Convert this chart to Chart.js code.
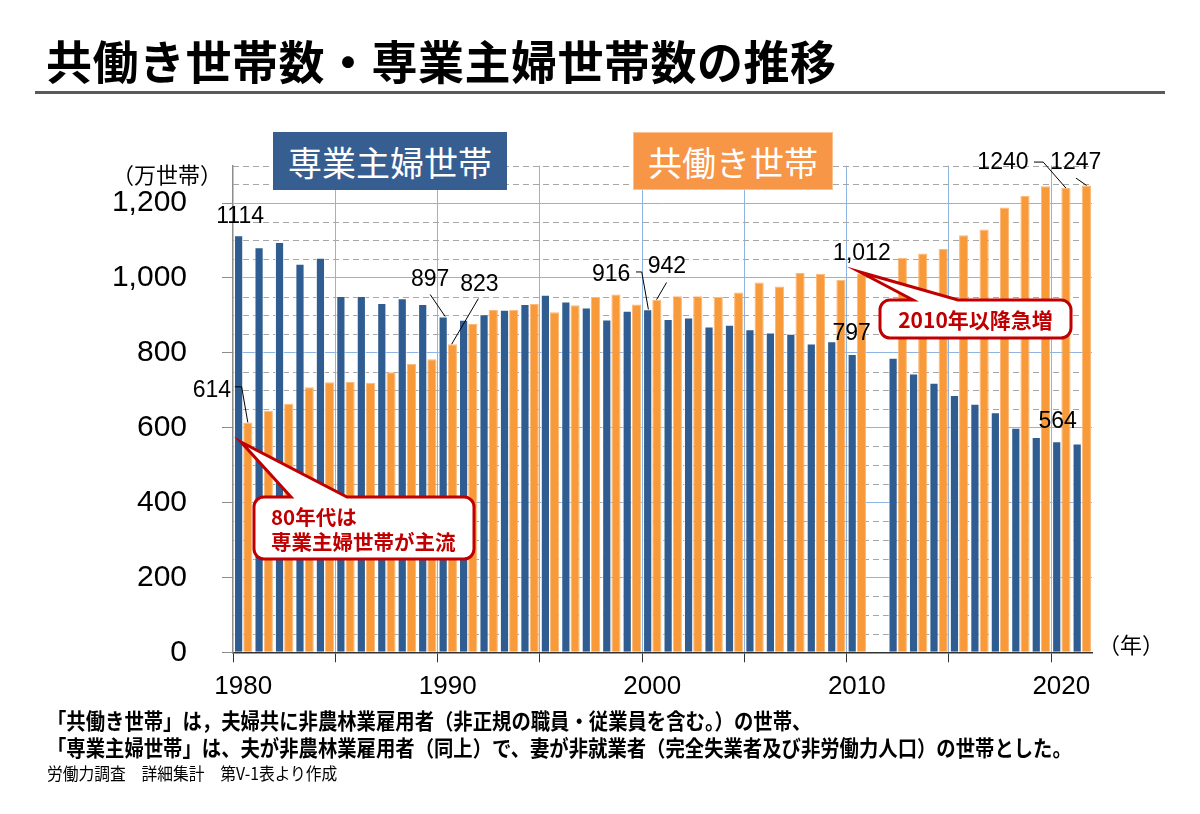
<!DOCTYPE html>
<html lang="ja">
<head>
<meta charset="utf-8">
<title>共働き世帯数・専業主婦世帯数の推移</title>
<script src="https://cdn.jsdelivr.net/npm/chart.js@4.4.0/dist/chart.umd.min.js"></script>
<style>
    body { margin: 0; background: #fff; }
    .page { position: relative; width: 1200px; height: 814px; overflow: hidden; font-family: "Noto Sans CJK JP", "Noto Sans", sans-serif; color: #000; }
    #chart { position: absolute; left: 0; top: 0; }
    .title { position: absolute; left: 46px; top: 34px; font-size: 46px; line-height: 50px; font-weight: bold; letter-spacing: 0.5px; white-space: nowrap; }
    .rule { position: absolute; left: 35px; top: 91px; width: 1130px; height: 3px; background: #5a5a5a; }
    .key { position: absolute; top: 132px; height: 58px; color: #fff; font-size: 34px; display: flex; align-items: center; justify-content: center; box-sizing: border-box; }
    .key.blue { left: 273px; width: 234px; background: #365e91; }
    .key.orange { left: 633px; width: 200px; background: #f79646; border: 1px solid #fbc28f; }
    .unit { position: absolute; font-size: 22px; line-height: 24px; white-space: nowrap; }
    .note { position: absolute; left: 47px; white-space: nowrap; transform: scaleX(0.9); transform-origin: left center; }
    .note.b { font-size: 21.5px; font-weight: bold; line-height: 26px; }
    .note.s { font-size: 17.5px; line-height: 20px; }
</style>
</head>
<body>
<div class="page">
    <canvas id="chart" width="1200" height="814"></canvas>
    <div class="title">共働き世帯数・専業主婦世帯数の推移</div>
    <div class="rule"></div>
    <div class="key blue">専業主婦世帯</div>
    <div class="key orange">共働き世帯</div>
    <div class="unit" style="left:112px; top:161px;">（万世帯）</div>
    <div class="unit" style="left:1098px; top:631px;">（年）</div>
    <div class="note b" style="top:707px;">「共働き世帯」は，夫婦共に非農林業雇用者（非正規の職員・従業員を含む。）の世帯、</div>
    <div class="note b" style="top:734px;">「専業主婦世帯」は、夫が非農林業雇用者（同上）で、妻が非就業者（完全失業者及び非労働力人口）の世帯とした。</div>
    <div class="note s" style="top:763px;">労働力調査　詳細集計　第V-1表より作成</div>
</div>
<script>
    // 労働力調査（万世帯）、2011年は欠測
    const years = ['1980', '1981', '1982', '1983', '1984', '1985', '1986', '1987', '1988', '1989',
        '1990', '1991', '1992', '1993', '1994', '1995', '1996', '1997', '1998', '1999',
        '2000', '2001', '2002', '2003', '2004', '2005', '2006', '2007', '2008', '2009',
        '2010', '2011', '2012', '2013', '2014', '2015', '2016', '2017', '2018', '2019',
        '2020', '2021'];

    const housewife = [1114, 1082, 1096, 1038, 1054, 952, 952, 933, 946, 930,
        897, 888, 903, 915, 930, 955, 937, 921, 889, 912,
        916, 890, 894, 870, 875, 863, 854, 851, 825, 831,
        797, null, 787, 745, 720, 687, 664, 641, 600, 575,
        564, 558];

    const dualIncome = [614, 645, 664, 708, 721, 722, 720, 748, 771, 783,
        823, 877, 914, 915, 930, 908, 927, 949, 956, 929,
        942, 951, 951, 949, 961, 988, 977, 1013, 1011, 995,
        1012, null, 1054, 1065, 1077, 1114, 1129, 1188, 1219, 1245,
        1240, 1247];

    const yMax = 1300;
    const yStep = 50;
    const yLabelStep = 200;
    const xLabelStep = 10;
    const xGridStep = 5;

    const BLUE = '#2f5d91';
    const ORANGE = '#f99a3a';
    const GRID_BLUE = '#8eb4e3';
    const RED = '#c00000';

    // 数値ラベル（棒の上端からのずれ、引出線）
    const valueNotes = [
        { ds: 0, year: '1980', dx: 1.5, dy: -19 },
        { ds: 1, year: '1980', dx: -36, dy: -32, lead: [[-13, -35.6], [-6.2, -35.6], [0, 0]] },
        { ds: 0, year: '1990', dx: -13, dy: -37, lead: [[-13, -22], [2, 0]] },
        { ds: 1, year: '1990', dx: 27, dy: -60, lead: [[26, -45.6], [-0.7, 0]] },
        { ds: 0, year: '2000', dx: -36.6, dy: -34.8, lead: [[-11.6, -37.4], [-5.9, -37.4], [0.7, 0]] },
        { ds: 1, year: '2000', dx: 10, dy: -32.7, lead: [[9.7, -17.1], [-0.3, 0]] },
        { ds: 1, year: '2010', dx: 0.5, dy: -20, comma: true },
        { ds: 0, year: '2010', dx: -0.6, dy: -20 },
        { ds: 1, year: '2020', dx: -63, dy: -25, lead: [[-32, -26], [-22.7, -26], [0, 0]] },
        { ds: 0, year: '2020', dx: 1, dy: -19.3 },
        { ds: 1, year: '2021', dx: -10.7, dy: -22.4, lead: [[-10.5, -7.4], [0.2, 0]] }
    ];

    const callouts = [
        { ds: 1, year: '1980', tip: [-7, 19.4], box: [254, 497, 220, 62], base: [291, 347],
          lines: ['80年代は', '専業主婦世帯が主流'], align: 'left', tx: 271, ty: [517, 542], size: 20.5 },
        { ds: 1, year: '2010', tip: [-1.5, -1.4], box: [880, 300, 191, 38], base: [913, 958],
          lines: ['2010年以降急増'], align: 'center', tx: 975.5, ty: [320], size: 21 }
    ];

    function barTop(chart, ds, year) {
        const bar = chart.getDatasetMeta(ds).data[years.indexOf(year)];
        return { x: bar.x, y: bar.y, v: chart.data.datasets[ds].data[years.indexOf(year)] };
    }

    function drawCallout(ctx, c, tip) {
        const [x, y, w, h] = c.box;
        const r = 10;
        ctx.beginPath();
        ctx.moveTo(x + r, y);
        ctx.lineTo(c.base[0], y);
        ctx.lineTo(tip.x, tip.y);
        ctx.lineTo(c.base[1], y);
        ctx.lineTo(x + w - r, y);
        ctx.arcTo(x + w, y, x + w, y + r, r);
        ctx.lineTo(x + w, y + h - r);
        ctx.arcTo(x + w, y + h, x + w - r, y + h, r);
        ctx.lineTo(x + r, y + h);
        ctx.arcTo(x, y + h, x, y + h - r, r);
        ctx.lineTo(x, y + r);
        ctx.arcTo(x, y, x + r, y, r);
        ctx.closePath();
        ctx.fillStyle = '#fff';
        ctx.fill();
        ctx.lineWidth = 3;
        ctx.strokeStyle = RED;
        ctx.lineJoin = 'miter';
        ctx.stroke();
    }

    // 破線の補助目盛線
    const minorGrid = {
        id: 'minorGrid',
        beforeDatasetsDraw(chart) {
            const { ctx, chartArea } = chart;
            const y = chart.scales.y;
            ctx.save();
            ctx.strokeStyle = '#a6a6a6';
            ctx.lineWidth = 1;
            ctx.setLineDash([6, 4]);
            for (let v = yStep; v <= yMax; v += yStep) {
                if (v % yLabelStep === 0) continue;
                const py = Math.round(y.getPixelForValue(v)) + 0.5;
                ctx.beginPath();
                ctx.moveTo(chartArea.left, py);
                ctx.lineTo(chartArea.right, py);
                ctx.stroke();
            }
            ctx.restore();
        }
    };

    const annotations = {
        id: 'annotations',
        afterDatasetsDraw(chart) {
            const ctx = chart.ctx;
            ctx.save();
            ctx.font = '23px "Liberation Sans", Arial, sans-serif';
            ctx.fillStyle = '#000';
            ctx.textAlign = 'center';
            ctx.textBaseline = 'middle';
            valueNotes.forEach(n => {
                const t = barTop(chart, n.ds, n.year);
                if (n.lead) {
                    ctx.beginPath();
                    ctx.strokeStyle = '#000';
                    ctx.lineWidth = 1;
                    n.lead.forEach((p, i) => {
                        const px = t.x + p[0], py = t.y + p[1];
                        if (i === 0) ctx.moveTo(px, py); else ctx.lineTo(px, py);
                    });
                    ctx.stroke();
                }
                const text = n.comma ? t.v.toLocaleString('en-US') : String(t.v);
                ctx.fillText(text, t.x + n.dx, t.y + n.dy);
            });

            callouts.forEach(c => {
                const t = barTop(chart, c.ds, c.year);
                drawCallout(ctx, c, { x: t.x + c.tip[0], y: t.y + c.tip[1] });
                ctx.fillStyle = RED;
                ctx.font = 'bold ' + c.size + 'px "Noto Sans CJK JP", sans-serif';
                ctx.textAlign = c.align;
                c.lines.forEach((line, i) => ctx.fillText(line, c.tx, c.ty[i]));
            });
            ctx.restore();
        }
    };

    const ctx = document.getElementById('chart').getContext('2d');
    const chart = new Chart(ctx, {
        type: 'bar',
        data: {
            labels: years,
            datasets: [
                {
                    label: '専業主婦世帯',
                    data: housewife,
                    backgroundColor: BLUE,
                    borderColor: 'rgba(255,255,255,0.85)',
                    borderWidth: 1,
                    borderSkipped: 'bottom'
                },
                {
                    label: '共働き世帯',
                    data: dualIncome,
                    backgroundColor: ORANGE,
                    borderColor: '#fbb97a',
                    borderWidth: 1,
                    borderSkipped: 'bottom'
                }
            ]
        },
        options: {
            responsive: false,
            animation: false,
            devicePixelRatio: 1,
            layout: {
                padding: { left: 0, top: 165.6, right: 108, bottom: 101.7 }
            },
            datasets: {
                bar: { categoryPercentage: 0.9, barPercentage: 1.0 }
            },
            scales: {
                x: {
                    offset: true,
                    afterFit: scale => { scale.height = 60; },
                    grid: {
                        offset: true,
                        drawOnChartArea: true,
                        tickLength: 10,
                        color: c => (c.index > 0 && c.index % xGridStep === 0 && c.index < years.length) ? GRID_BLUE : 'rgba(0,0,0,0)',
                        tickColor: c => (c.index % xGridStep === 0 && c.index < years.length) ? '#333' : 'rgba(0,0,0,0)'
                    },
                    border: { color: '#333', width: 1.5 },
                    ticks: {
                        autoSkip: false,
                        maxRotation: 0,
                        padding: 9,
                        color: '#000',
                        font: { family: '"Liberation Sans", Arial, sans-serif', size: 26 },
                        callback: function (value, index) {
                            const yr = years[index];
                            return Number(yr) % xLabelStep === 0 ? yr : '';
                        }
                    }
                },
                y: {
                    min: 0,
                    max: yMax,
                    afterFit: scale => { scale.width = 233; },
                    grid: {
                        tickLength: 11,
                        color: c => (c.tick && c.tick.value > 0 && c.tick.value % yLabelStep === 0) ? GRID_BLUE : 'rgba(0,0,0,0)',
                        tickColor: c => (c.tick && c.tick.value % yLabelStep === 0) ? '#8c8c8c' : 'rgba(0,0,0,0)'
                    },
                    border: { color: '#8c8c8c', width: 1.5 },
                    ticks: {
                        stepSize: yStep,
                        autoSkip: false,
                        padding: 35,
                        color: '#000',
                        font: { family: '"Liberation Sans", Arial, sans-serif', size: 30 },
                        callback: v => (v % yLabelStep === 0 ? v.toLocaleString('en-US') : '')
                    }
                }
            },
            plugins: {
                legend: { display: false },
                title: { display: false },
                tooltip: { enabled: false }
            }
        },
        plugins: [minorGrid, annotations]
    });
</script>
</body>
</html>
